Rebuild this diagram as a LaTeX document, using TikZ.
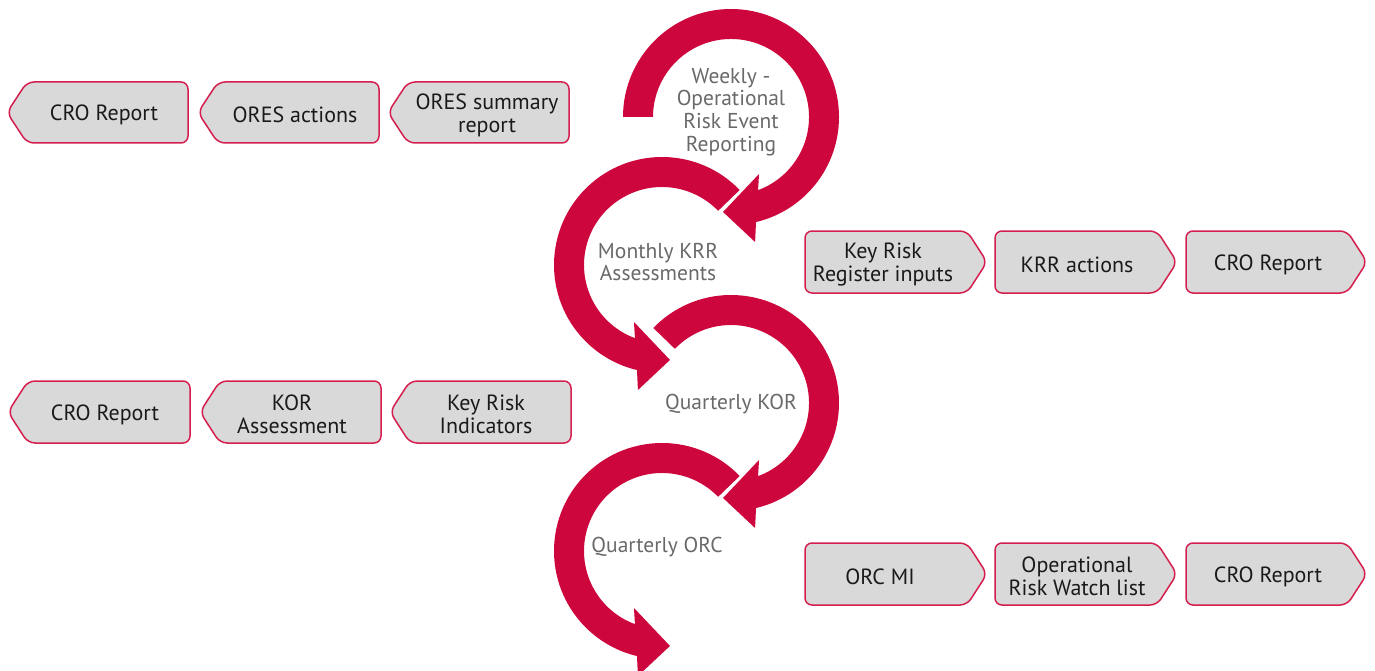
\documentclass[tikz,border=0pt]{standalone}
\usepackage{fontspec}
\setmainfont{PT Sans}
\definecolor{arrred}{RGB}{206,6,62}
\definecolor{boxfill}{RGB}{217,217,217}
\definecolor{boxline}{RGB}{212,30,78}
\definecolor{boxtext}{RGB}{26,26,26}
\definecolor{circtext}{RGB}{105,105,105}
\tikzset{
  boxshape/.style={fill=boxfill, draw=boxline, line width=1.5, rounded corners=7},
  boxtxt/.style={text=boxtext, align=center, inner sep=0, yshift=-2.5pt, font=\fontsize{22}{23}\selectfont},
  circtxt/.style={text=circtext, align=center, inner sep=0, yshift=-2pt, font=\fontsize{21.5}{22.7}\selectfont},
  arrowfill/.style={fill=arrred, preaction={draw=white, line width=4, line join=round}},
}
% left-pointing box: x0 x1 ytop ybot
\newcommand\lptbox[4]{\path[boxshape] (#1,{(#3+#4)/2}) -- ({#1+20},#3) -- (#2,#3) -- (#2,#4) -- ({#1+20},#4) -- cycle;}
% right-pointing box
\newcommand\rptbox[4]{\path[boxshape] (#1,#3) -- ({#2-20},#3) -- (#2,{(#3+#4)/2}) -- ({#2-20},#4) -- (#1,#4) -- cycle;}
\begin{document}
\begin{tikzpicture}[x=1pt,y=-1pt]
\useasboundingbox (0,0) rectangle (1375,671);

% ---- circular arrows (drawn bottom-up so upper arrowheads overlap) ----
% arc 4 (counter-clockwise)
\begin{scope}[shift={(662,551)}]
\path[arrowfill] (-44:108) arc[start angle=-44, end angle=-256.6, radius=108]
  -- (100.9:127.3) -- (85.2:95.3) -- (116.2:63.5) -- (-249.7:78)
  arc[start angle=-249.7, end angle=-44, radius=78] -- cycle;
\end{scope}
% arc 3 (clockwise)
\begin{scope}[shift={(731,403)}]
\path[arrowfill] (224:108) arc[start angle=224, end angle=436.6, radius=108]
  -- (79.1:127.3) -- (94.8:95.3) -- (63.8:63.5) -- (429.7:78)
  arc[start angle=429.7, end angle=224, radius=78] -- cycle;
\end{scope}
% arc 2 (counter-clockwise)
\begin{scope}[shift={(662,265)}]
\path[arrowfill] (-44:108) arc[start angle=-44, end angle=-256.6, radius=108]
  -- (100.9:127.3) -- (85.2:95.3) -- (116.2:63.5) -- (-249.7:78)
  arc[start angle=-249.7, end angle=-44, radius=78] -- cycle;
\end{scope}
% arc 1 (clockwise)
\begin{scope}[shift={(731,117)}]
\path[arrowfill] (180:108) arc[start angle=180, end angle=436.6, radius=108]
  -- (79.1:127.3) -- (94.8:95.3) -- (63.8:63.5) -- (429.7:78)
  arc[start angle=429.7, end angle=180, radius=78] -- cycle;
\end{scope}

\node[circtxt] (weekly) at (731,110) {Weekly -\\Operational\\Risk Event\\Reporting};
\node[circtxt] (monthly) at (658,260) {Monthly KRR\\Assessments};
\node[circtxt] (qkor) at (731,402) {Quarterly KOR};
\node[circtxt] (qorc) at (657,545) {Quarterly ORC};

% ---- top-left row ----
\lptbox{7}{188}{82}{143}
\lptbox{198}{379}{82}{143}
\lptbox{388}{569}{82}{143}
\node[boxtxt] (a1) at (104,112.5) {CRO Report};
\node[boxtxt] (a2) at (295,112.5) {ORES actions};
\node[boxtxt] (a3) at (487,112.5) {ORES summary\\report};

% ---- middle-left row ----
\lptbox{8}{190}{381}{443}
\lptbox{200}{381}{381}{443}
\lptbox{390}{571}{381}{443}
\node[boxtxt] (b1) at (105,412) {CRO Report};
\node[boxtxt] (b2) at (292,412) {KOR\\Assessment};
\node[boxtxt] (b3) at (486,412) {Key Risk\\Indicators};

% ---- upper-right row ----
\rptbox{805}{987}{231}{293}
\rptbox{995}{1177}{231}{293}
\rptbox{1186}{1367}{231}{293}
\node[boxtxt] (c1) at (883,262) {Key Risk\\Register inputs};
\node[boxtxt] (c2) at (1077,262) {KRR actions};
\node[boxtxt] (c3) at (1268,262) {CRO Report};

% ---- lower-right row ----
\rptbox{805}{987}{543}{605}
\rptbox{995}{1177}{543}{605}
\rptbox{1186}{1367}{543}{605}
\node[boxtxt] (d1) at (880,574) {ORC MI};
\node[boxtxt] (d2) at (1077,574) {Operational\\Risk Watch list};
\node[boxtxt] (d3) at (1268,574) {CRO Report};
\end{tikzpicture}
\end{document}
